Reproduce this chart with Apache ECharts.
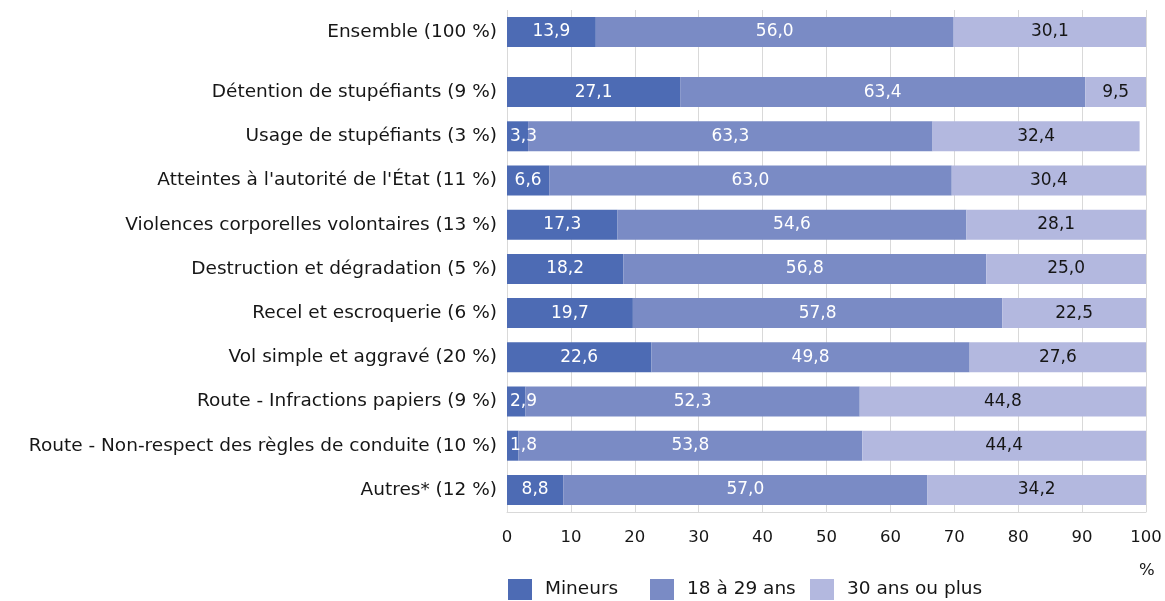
<!DOCTYPE html>
<html>
<head>
<meta charset="utf-8">
<script src="https://cdn.jsdelivr.net/npm/echarts@6/dist/echarts.min.js"></script>
<style>html,body{margin:0;padding:0;background:#fff}#c{width:1165px;height:601px}</style>
</head>
<body>
<div id="c"></div>
<script>
const totalCategory = ['Ensemble (100 %)'];
const categories = [
  'Détention de stupéfiants (9 %)',
  'Usage de stupéfiants (3 %)',
  "Atteintes à l'autorité de l'État (11 %)",
  'Violences corporelles volontaires (13 %)',
  'Destruction et dégradation (5 %)',
  'Recel et escroquerie (6 %)',
  'Vol simple et aggravé (20 %)',
  'Route - Infractions papiers (9 %)',
  'Route - Non-respect des règles de conduite (10 %)',
  'Autres* (12 %)'
];
const seriesNames = ['Mineurs', '18 à 29 ans', '30 ans ou plus'];
const totalMineurs = [13.9];
const total18_29 = [56.0];
const total30plus = [30.1];
const mineurs = [27.1, 3.3, 6.6, 17.3, 18.2, 19.7, 22.6, 2.9, 1.8, 8.8];
const ans18_29 = [63.4, 63.3, 63.0, 54.6, 56.8, 57.8, 49.8, 52.3, 53.8, 57.0];
const ans30plus = [9.5, 32.4, 30.4, 28.1, 25.0, 22.5, 27.6, 44.8, 44.4, 34.2];
const xTicks = [0, 10, 20, 30, 40, 50, 60, 70, 80, 90, 100];

const FONT = 'DejaVu Sans';
const FS_TXT = 18.5;
const FS_NUM = 16.5;
const FS_BAR = 17;
const colors = ['#4d6bb4', '#7a8bc5', '#b3b8df'];
const labelColors = ['#ffffff', '#ffffff', '#161616'];
const fmt = v => v.toFixed(1).replace('.', ',');

function toData(arr, idx) {
  return arr.map(v => {
    const d = { value: v };
    if (idx === 0 && v < 5) {
      d.label = { position: 'insideLeft', distance: 3 };
    }
    return d;
  });
}

const gridLeft = 507, gridWidth = 639;
const grids = [
  { left: gridLeft, width: gridWidth, top: 10, height: 44 },
  { left: gridLeft, width: gridWidth, top: 54, height: 16 },
  { left: gridLeft, width: gridWidth, top: 70, height: 442 }
];
const splitLine = { show: true, lineStyle: { color: '#d9d9d9', width: 1 } };
const xAxes = grids.map((g, i) => ({
  type: 'value', gridIndex: i, min: 0, max: 100, interval: 10,
  splitLine: splitLine,
  axisLine: { show: i === 2, lineStyle: { color: '#d9d9d9' } },
  axisTick: { show: false },
  axisLabel: i === 2 ? {
    show: true, fontFamily: FONT, fontSize: FS_NUM, color: '#161616', margin: 17,
    formatter: v => xTicks.indexOf(v) >= 0 ? String(v) : ''
  } : { show: false }
}));
const yLabel = { fontFamily: FONT, fontSize: FS_TXT, color: '#161616', margin: 10 };
const yAxes = [
  { type: 'category', gridIndex: 0, data: totalCategory, inverse: true,
    axisLine: { show: false }, axisTick: { show: false }, axisLabel: yLabel },
  { type: 'value', gridIndex: 1, show: false, min: 0, max: 1 },
  { type: 'category', gridIndex: 2, data: categories, inverse: true,
    axisLine: { show: false }, axisTick: { show: false }, axisLabel: yLabel }
];

function mkSeries(name, arr, idx, axisIdx) {
  return {
    name: name, type: 'bar', stack: 's' + axisIdx,
    xAxisIndex: axisIdx, yAxisIndex: axisIdx,
    barWidth: 30,
    itemStyle: { color: colors[idx] },
    label: {
      show: true, position: 'inside', fontFamily: FONT, fontSize: FS_BAR,
      color: labelColors[idx], formatter: p => fmt(p.value)
    },
    emphasis: { disabled: true },
    data: toData(arr, idx)
  };
}

const series = [
  mkSeries(seriesNames[0], totalMineurs, 0, 0),
  mkSeries(seriesNames[1], total18_29, 1, 0),
  mkSeries(seriesNames[2], total30plus, 2, 0),
  mkSeries(seriesNames[0], mineurs, 0, 2),
  mkSeries(seriesNames[1], ans18_29, 1, 2),
  mkSeries(seriesNames[2], ans30plus, 2, 2)
];

const legendLefts = [508, 650, 810];
const legends = seriesNames.map((n, i) => ({
  data: [n], left: legendLefts[i], top: 579, padding: 0,
  itemWidth: 24, itemHeight: 21, icon: 'rect', selectedMode: false,
  textStyle: { fontFamily: FONT, fontSize: FS_TXT, color: '#161616', padding: [2, 0, 0, 8] }
}));

const chart = echarts.init(document.getElementById('c'), null, { renderer: 'canvas' });
chart.setOption({
  animation: false,
  backgroundColor: '#ffffff',
  grid: grids,
  xAxis: xAxes,
  yAxis: yAxes,
  title: {
    text: '%', left: 1139, top: 562, padding: 0,
    textStyle: { fontFamily: FONT, fontSize: FS_NUM, fontWeight: 'normal', color: '#161616' }
  },
  legend: legends,
  series: series
});
</script>
</body>
</html>
